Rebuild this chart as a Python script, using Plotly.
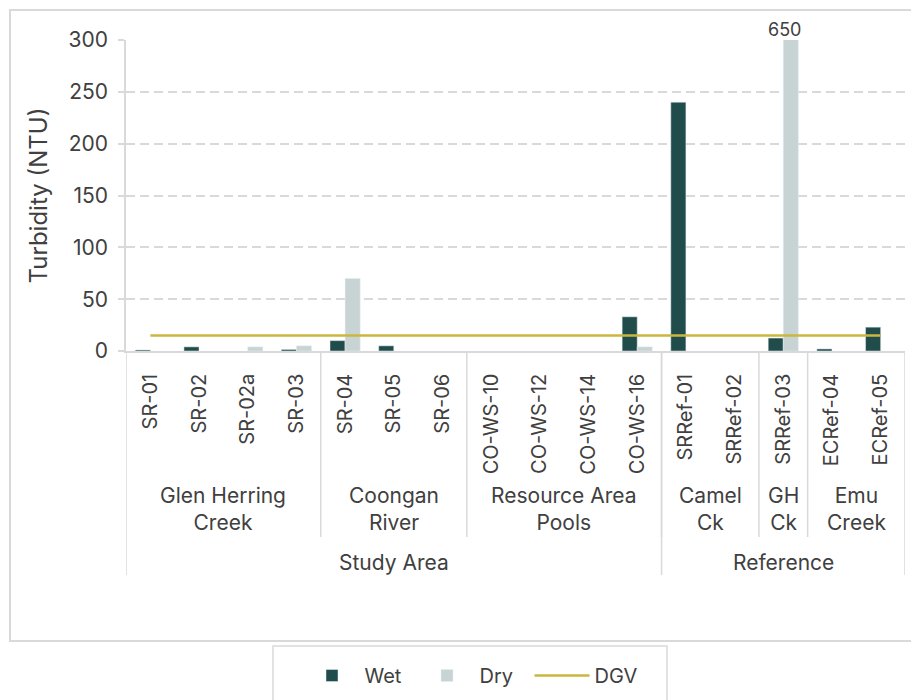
import plotly.graph_objects as go

# ---- data ----
sites = ["SR-01", "SR-02", "SR-02a", "SR-03", "SR-04", "SR-05", "SR-06",
         "CO-WS-10", "CO-WS-12", "CO-WS-14", "CO-WS-16",
         "SRRef-01", "SRRef-02", "SRRef-03", "ECRef-04", "ECRef-05"]
wet = [1, 4, None, 1.5, 10, 5, None, None, None, None, 33, 240, None, 12.5, 2, 23]
dry = [None, None, 4, 5, 70, None, None, None, None, None, 4, None, None, 650, None, None]
DGV = 15
groups = ["Glen Herring<br>Creek", "Coongan<br>River", "Resource Area<br>Pools",
          "Camel<br>Ck", "GH<br>Ck", "Emu<br>Creek"]
group_sizes = [4, 3, 4, 2, 1, 2]
areas = ["Study Area", "Reference"]
area_sizes = [11, 5]

# ---- layout geometry (page pixels; page body has an 8px margin) ----
W, H = 919, 700
OFF = 8
L, R, T, B = 126, 905, 40, 351
FONT = "Inter"
TXT = "#404040"
GRID = "#d9d9d9"

def py(p):  # page pixel y -> paper y
    return (B - p) / (B - T)

def px(p):  # page pixel x -> paper x
    return (p - L) / (R - L)

def cy(p):  # page pixel y -> container y
    return (H - p) / (H - OFF)

fig = go.Figure()
fig.add_trace(go.Bar(name="Wet", x=sites, y=wet, marker_color="#204d4c"))
fig.add_trace(go.Bar(name="Dry", x=sites, y=dry, marker_color="#c8d4d4"))
fig.add_trace(go.Scatter(name="DGV", x=sites, y=[DGV] * len(sites), mode="lines",
                         line=dict(color="#cbb73f", width=2.5)))

shapes = []
annotations = []

# group dividers and labels
pos = 0
for g, n in zip(groups, group_sizes):
    annotations.append(dict(x=pos + (n - 1) / 2, y=py(509), xref="x", yref="paper",
                            text=g, showarrow=False, yanchor="middle",
                            font=dict(size=21, color=TXT, family=FONT)))
    pos += n
    shapes.append(dict(type="line", xref="x", yref="paper", x0=pos - 0.5, x1=pos - 0.5,
                       y0=0, y1=py(537), line=dict(color=GRID, width=1.5)))
shapes = shapes[:-1]

pos = 0
shapes.append(dict(type="line", xref="x", yref="paper", x0=-0.5, x1=-0.5,
                   y0=0, y1=py(575), line=dict(color=GRID, width=1.5)))
for a, n in zip(areas, area_sizes):
    annotations.append(dict(x=pos + (n - 1) / 2, y=py(562), xref="x", yref="paper",
                            text=a, showarrow=False, yanchor="middle",
                            font=dict(size=21, color=TXT, family=FONT)))
    pos += n
    shapes.append(dict(type="line", xref="x", yref="paper", x0=pos - 0.5, x1=pos - 0.5,
                       y0=0, y1=py(575), line=dict(color=GRID, width=1.5)))

# clipped bar label
annotations.append(dict(x="SRRef-03", y=1, xref="x", yref="paper", text=str(dry[13]),
                        showarrow=False, yanchor="bottom", xshift=1, yshift=-2,
                        font=dict(size=18, color=TXT, family=FONT)))

# outer chart border
shapes.append(dict(type="rect", xref="paper", yref="paper", x0=px(10), x1=px(917),
                   y0=py(641), y1=py(10), line=dict(color=GRID, width=2), layer="below"))
# legend frame
shapes.append(dict(type="rect", xref="paper", yref="paper", x0=px(273), x1=px(667),
                   y0=py(712), y1=py(646), line=dict(color=GRID, width=1.5), layer="below"))

fig.update_layout(
    width=W - OFF, height=H - OFF,
    margin=dict(l=L - OFF, r=W - R, t=T - OFF, b=H - B),
    paper_bgcolor="white", plot_bgcolor="white",
    barmode="group", bargap=0.38, bargroupgap=0,
    font=dict(family=FONT, color=TXT, size=20),
    shapes=shapes, annotations=annotations,
    showlegend=True,
    legend=dict(orientation="h", x=px(472), xanchor="center",
                yref="container", y=cy(656), yanchor="top",
                borderwidth=0, font=dict(size=20, color=TXT),
                entrywidth=45, itemwidth=55, bgcolor="rgba(0,0,0,0)"),
)
fig.update_xaxes(type="category", range=[-0.5, len(sites) - 0.5], tickangle=-90,
                 showline=True, linecolor=GRID, linewidth=1.5, ticks="",
                 showgrid=False, tickfont=dict(size=20, color=TXT), ticklabelstandoff=13)
fig.update_yaxes(range=[0, 300], tickvals=[0, 50, 100, 150, 200, 250, 300],
                 showline=True, linecolor=GRID, linewidth=1.5, ticks="outside",
                 ticklen=6, tickcolor=GRID, tickwidth=1.5, zeroline=False,
                 showgrid=True, gridcolor=GRID, gridwidth=1.5, griddash="9px,5px",
                 tickfont=dict(size=21, color=TXT), ticklabelstandoff=6,
                 title=dict(text="Turbidity (NTU)", font=dict(size=24, color=TXT), standoff=14))

fig.write_html("out.html")
